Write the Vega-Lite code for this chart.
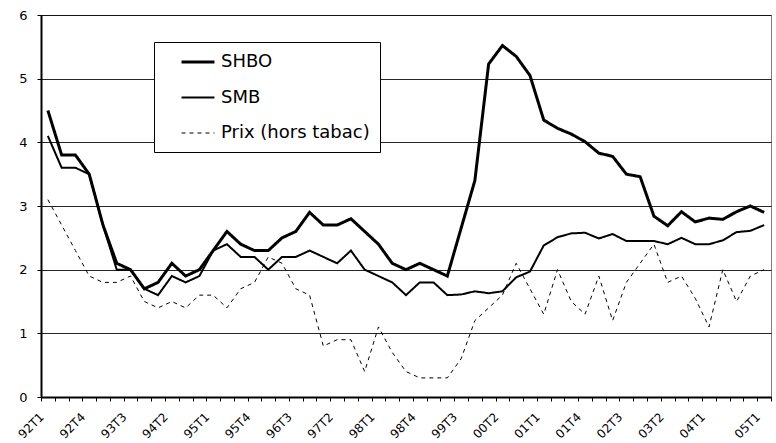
{
  "$schema": "https://vega.github.io/schema/vega-lite/v6.json",
  "width": 730,
  "height": 382,
  "autosize": {"type": "none"},
  "padding": {"left": 41, "top": 15, "right": 5, "bottom": 46},
  "background": "#ffffff",
  "config": {
    "view": {"stroke": "#7f7f7f", "strokeWidth": 1},
    "font": "DejaVu Sans",
    "legend": {
      "orient": "none",
      "legendX": 113,
      "legendY": 27,
      "strokeColor": "#000000",
      "fillColor": "#ffffff",
      "padding": 10,
      "symbolType": "M-2,0H2",
      "symbolSize": 272,
      "symbolStrokeColor": "#000000",
      "symbolOffset": 24,
      "labelOffset": 13,
      "labelFont": "DejaVu Sans",
      "labelFontSize": 18,
      "labelColor": "#000000",
      "rowPadding": 17
    }
  },
  "data": {
    "values": [
      {"q": "92T1", "s": "SHBO", "v": 4.5}, {"q": "92T2", "s": "SHBO", "v": 3.8}, {"q": "92T3", "s": "SHBO", "v": 3.8}, {"q": "92T4", "s": "SHBO", "v": 3.5},
      {"q": "93T1", "s": "SHBO", "v": 2.7}, {"q": "93T2", "s": "SHBO", "v": 2.1}, {"q": "93T3", "s": "SHBO", "v": 2.0}, {"q": "93T4", "s": "SHBO", "v": 1.7},
      {"q": "94T1", "s": "SHBO", "v": 1.8}, {"q": "94T2", "s": "SHBO", "v": 2.1}, {"q": "94T3", "s": "SHBO", "v": 1.9}, {"q": "94T4", "s": "SHBO", "v": 2.0},
      {"q": "95T1", "s": "SHBO", "v": 2.3}, {"q": "95T2", "s": "SHBO", "v": 2.6}, {"q": "95T3", "s": "SHBO", "v": 2.4}, {"q": "95T4", "s": "SHBO", "v": 2.3},
      {"q": "96T1", "s": "SHBO", "v": 2.3}, {"q": "96T2", "s": "SHBO", "v": 2.5}, {"q": "96T3", "s": "SHBO", "v": 2.6}, {"q": "96T4", "s": "SHBO", "v": 2.9},
      {"q": "97T1", "s": "SHBO", "v": 2.7}, {"q": "97T2", "s": "SHBO", "v": 2.7}, {"q": "97T3", "s": "SHBO", "v": 2.8}, {"q": "97T4", "s": "SHBO", "v": 2.6},
      {"q": "98T1", "s": "SHBO", "v": 2.4}, {"q": "98T2", "s": "SHBO", "v": 2.1}, {"q": "98T3", "s": "SHBO", "v": 2.0}, {"q": "98T4", "s": "SHBO", "v": 2.1},
      {"q": "99T1", "s": "SHBO", "v": 2.0}, {"q": "99T2", "s": "SHBO", "v": 1.9}, {"q": "99T3", "s": "SHBO", "v": 2.65}, {"q": "99T4", "s": "SHBO", "v": 3.4},
      {"q": "00T1", "s": "SHBO", "v": 5.23}, {"q": "00T2", "s": "SHBO", "v": 5.52}, {"q": "00T3", "s": "SHBO", "v": 5.35}, {"q": "00T4", "s": "SHBO", "v": 5.05},
      {"q": "01T1", "s": "SHBO", "v": 4.35}, {"q": "01T2", "s": "SHBO", "v": 4.22}, {"q": "01T3", "s": "SHBO", "v": 4.13}, {"q": "01T4", "s": "SHBO", "v": 4.01},
      {"q": "02T1", "s": "SHBO", "v": 3.83}, {"q": "02T2", "s": "SHBO", "v": 3.78}, {"q": "02T3", "s": "SHBO", "v": 3.5}, {"q": "02T4", "s": "SHBO", "v": 3.46},
      {"q": "03T1", "s": "SHBO", "v": 2.84}, {"q": "03T2", "s": "SHBO", "v": 2.69}, {"q": "03T3", "s": "SHBO", "v": 2.91}, {"q": "03T4", "s": "SHBO", "v": 2.75},
      {"q": "04T1", "s": "SHBO", "v": 2.81}, {"q": "04T2", "s": "SHBO", "v": 2.79}, {"q": "04T3", "s": "SHBO", "v": 2.91}, {"q": "04T4", "s": "SHBO", "v": 3.0},
      {"q": "05T1", "s": "SHBO", "v": 2.9},
      {"q": "92T1", "s": "SMB", "v": 4.1}, {"q": "92T2", "s": "SMB", "v": 3.6}, {"q": "92T3", "s": "SMB", "v": 3.6}, {"q": "92T4", "s": "SMB", "v": 3.5},
      {"q": "93T1", "s": "SMB", "v": 2.7}, {"q": "93T2", "s": "SMB", "v": 2.0}, {"q": "93T3", "s": "SMB", "v": 2.0}, {"q": "93T4", "s": "SMB", "v": 1.7},
      {"q": "94T1", "s": "SMB", "v": 1.6}, {"q": "94T2", "s": "SMB", "v": 1.9}, {"q": "94T3", "s": "SMB", "v": 1.8}, {"q": "94T4", "s": "SMB", "v": 1.9},
      {"q": "95T1", "s": "SMB", "v": 2.3}, {"q": "95T2", "s": "SMB", "v": 2.4}, {"q": "95T3", "s": "SMB", "v": 2.2}, {"q": "95T4", "s": "SMB", "v": 2.2},
      {"q": "96T1", "s": "SMB", "v": 2.0}, {"q": "96T2", "s": "SMB", "v": 2.2}, {"q": "96T3", "s": "SMB", "v": 2.2}, {"q": "96T4", "s": "SMB", "v": 2.3},
      {"q": "97T1", "s": "SMB", "v": 2.2}, {"q": "97T2", "s": "SMB", "v": 2.1}, {"q": "97T3", "s": "SMB", "v": 2.3}, {"q": "97T4", "s": "SMB", "v": 2.0},
      {"q": "98T1", "s": "SMB", "v": 1.9}, {"q": "98T2", "s": "SMB", "v": 1.8}, {"q": "98T3", "s": "SMB", "v": 1.6}, {"q": "98T4", "s": "SMB", "v": 1.8},
      {"q": "99T1", "s": "SMB", "v": 1.8}, {"q": "99T2", "s": "SMB", "v": 1.6}, {"q": "99T3", "s": "SMB", "v": 1.61}, {"q": "99T4", "s": "SMB", "v": 1.66},
      {"q": "00T1", "s": "SMB", "v": 1.63}, {"q": "00T2", "s": "SMB", "v": 1.66}, {"q": "00T3", "s": "SMB", "v": 1.88}, {"q": "00T4", "s": "SMB", "v": 1.97},
      {"q": "01T1", "s": "SMB", "v": 2.38}, {"q": "01T2", "s": "SMB", "v": 2.51}, {"q": "01T3", "s": "SMB", "v": 2.57}, {"q": "01T4", "s": "SMB", "v": 2.58},
      {"q": "02T1", "s": "SMB", "v": 2.49}, {"q": "02T2", "s": "SMB", "v": 2.56}, {"q": "02T3", "s": "SMB", "v": 2.45}, {"q": "02T4", "s": "SMB", "v": 2.45},
      {"q": "03T1", "s": "SMB", "v": 2.45}, {"q": "03T2", "s": "SMB", "v": 2.4}, {"q": "03T3", "s": "SMB", "v": 2.5}, {"q": "03T4", "s": "SMB", "v": 2.4},
      {"q": "04T1", "s": "SMB", "v": 2.4}, {"q": "04T2", "s": "SMB", "v": 2.46}, {"q": "04T3", "s": "SMB", "v": 2.59}, {"q": "04T4", "s": "SMB", "v": 2.61},
      {"q": "05T1", "s": "SMB", "v": 2.7},
      {"q": "92T1", "s": "Prix (hors tabac)", "v": 3.1}, {"q": "92T2", "s": "Prix (hors tabac)", "v": 2.7}, {"q": "92T3", "s": "Prix (hors tabac)", "v": 2.3}, {"q": "92T4", "s": "Prix (hors tabac)", "v": 1.9},
      {"q": "93T1", "s": "Prix (hors tabac)", "v": 1.8}, {"q": "93T2", "s": "Prix (hors tabac)", "v": 1.8}, {"q": "93T3", "s": "Prix (hors tabac)", "v": 1.9}, {"q": "93T4", "s": "Prix (hors tabac)", "v": 1.5},
      {"q": "94T1", "s": "Prix (hors tabac)", "v": 1.4}, {"q": "94T2", "s": "Prix (hors tabac)", "v": 1.5}, {"q": "94T3", "s": "Prix (hors tabac)", "v": 1.4}, {"q": "94T4", "s": "Prix (hors tabac)", "v": 1.6},
      {"q": "95T1", "s": "Prix (hors tabac)", "v": 1.6}, {"q": "95T2", "s": "Prix (hors tabac)", "v": 1.4}, {"q": "95T3", "s": "Prix (hors tabac)", "v": 1.7}, {"q": "95T4", "s": "Prix (hors tabac)", "v": 1.8},
      {"q": "96T1", "s": "Prix (hors tabac)", "v": 2.2}, {"q": "96T2", "s": "Prix (hors tabac)", "v": 2.1}, {"q": "96T3", "s": "Prix (hors tabac)", "v": 1.7}, {"q": "96T4", "s": "Prix (hors tabac)", "v": 1.6},
      {"q": "97T1", "s": "Prix (hors tabac)", "v": 0.8}, {"q": "97T2", "s": "Prix (hors tabac)", "v": 0.9}, {"q": "97T3", "s": "Prix (hors tabac)", "v": 0.9}, {"q": "97T4", "s": "Prix (hors tabac)", "v": 0.4},
      {"q": "98T1", "s": "Prix (hors tabac)", "v": 1.1}, {"q": "98T2", "s": "Prix (hors tabac)", "v": 0.7}, {"q": "98T3", "s": "Prix (hors tabac)", "v": 0.4}, {"q": "98T4", "s": "Prix (hors tabac)", "v": 0.3},
      {"q": "99T1", "s": "Prix (hors tabac)", "v": 0.3}, {"q": "99T2", "s": "Prix (hors tabac)", "v": 0.3}, {"q": "99T3", "s": "Prix (hors tabac)", "v": 0.6}, {"q": "99T4", "s": "Prix (hors tabac)", "v": 1.2},
      {"q": "00T1", "s": "Prix (hors tabac)", "v": 1.4}, {"q": "00T2", "s": "Prix (hors tabac)", "v": 1.6}, {"q": "00T3", "s": "Prix (hors tabac)", "v": 2.1}, {"q": "00T4", "s": "Prix (hors tabac)", "v": 1.7},
      {"q": "01T1", "s": "Prix (hors tabac)", "v": 1.3}, {"q": "01T2", "s": "Prix (hors tabac)", "v": 2.0}, {"q": "01T3", "s": "Prix (hors tabac)", "v": 1.5}, {"q": "01T4", "s": "Prix (hors tabac)", "v": 1.3},
      {"q": "02T1", "s": "Prix (hors tabac)", "v": 1.9}, {"q": "02T2", "s": "Prix (hors tabac)", "v": 1.2}, {"q": "02T3", "s": "Prix (hors tabac)", "v": 1.8}, {"q": "02T4", "s": "Prix (hors tabac)", "v": 2.1},
      {"q": "03T1", "s": "Prix (hors tabac)", "v": 2.4}, {"q": "03T2", "s": "Prix (hors tabac)", "v": 1.8}, {"q": "03T3", "s": "Prix (hors tabac)", "v": 1.9}, {"q": "03T4", "s": "Prix (hors tabac)", "v": 1.55},
      {"q": "04T1", "s": "Prix (hors tabac)", "v": 1.1}, {"q": "04T2", "s": "Prix (hors tabac)", "v": 2.0}, {"q": "04T3", "s": "Prix (hors tabac)", "v": 1.5}, {"q": "04T4", "s": "Prix (hors tabac)", "v": 1.9},
      {"q": "05T1", "s": "Prix (hors tabac)", "v": 2.0}
    ]
  },
  "mark": {"type": "line", "color": "#000000", "strokeJoin": "miter"},
  "encoding": {
    "x": {
      "field": "q",
      "type": "ordinal",
      "sort": null,
      "bandPosition": 0.5,
      "scale": {"type": "band", "paddingInner": 0, "paddingOuter": 0},
      "axis": {
        "title": null,
        "ticks": true,
        "tickBand": "extent",
        "labelAngle": -45,
        "labelFont": "DejaVu Sans",
        "labelFontSize": 12,
        "labelColor": "#000000",
        "labelPadding": 10,
        "labelOffset": -10,
        "labelOverlap": false,
        "labelExpr": "indexof(['92T1','92T4','93T3','94T2','95T1','95T4','96T3','97T2','98T1','98T4','99T3','00T2','01T1','01T4','02T3','03T2','04T1','05T1'], datum.value) >= 0 ? datum.value : ''",
        "tickColor": "#000000",
        "tickSize": 4,
        "tickWidth": 1,
        "domainColor": "#000000",
        "domainWidth": 2,
        "grid": false
      }
    },
    "y": {
      "field": "v",
      "type": "quantitative",
      "scale": {"domain": [0, 6], "nice": false},
      "axis": {
        "title": null,
        "values": [0, 1, 2, 3, 4, 5, 6],
        "grid": true,
        "gridColor": "#000000",
        "gridOpacity": 0.85,
        "gridWidth": 1,
        "domainColor": "#000000",
        "domainWidth": 2,
        "tickColor": "#000000",
        "tickSize": 4,
        "labelFont": "DejaVu Sans",
        "labelFontSize": 13,
        "labelColor": "#000000",
        "labelPadding": 10
      }
    },
    "strokeDash": {
      "field": "s",
      "type": "nominal",
      "title": null,
      "scale": {"domain": ["SHBO", "SMB", "Prix (hors tabac)"], "range": [[1, 0], [1, 0], [4, 4]]}
    },
    "strokeWidth": {
      "field": "s",
      "type": "nominal",
      "title": null,
      "scale": {"domain": ["SHBO", "SMB", "Prix (hors tabac)"], "range": [3, 1, 2]}
    }
  }
}
